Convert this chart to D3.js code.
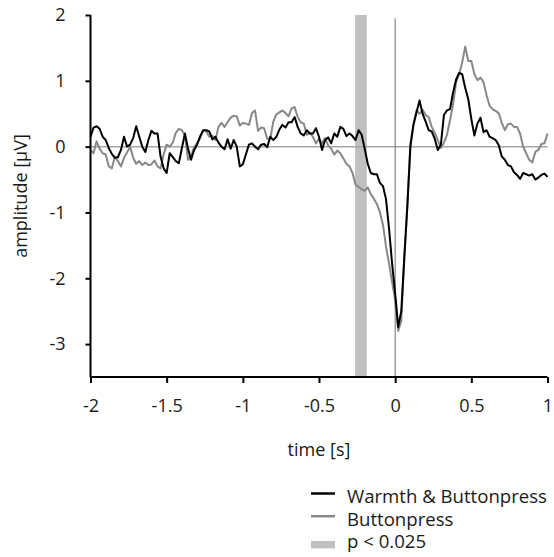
<!DOCTYPE html>
<html>
<head>
<meta charset="utf-8">
<script src="https://cdn.jsdelivr.net/npm/d3@7"></script>
<style>
  html, body { margin: 0; padding: 0; background: #fff; }
  svg { display: block; font-family: "Open Sans", "Noto Sans", sans-serif; }
</style>
</head>
<body>
<svg id="chart" width="554" height="557"></svg>
<script>
// Event-related potential, averaged, sampled every 20 ms from -2 s to 1 s
const tStart = -2;
const tStep = 0.02;

const warmthButtonpress = [
  0.15, 0.29, 0.31, 0.27, 0.15, 0.10, -0.02, -0.11, -0.17, -0.16,
  -0.05, 0.15, 0.00, 0.03, 0.13, 0.31, 0.15, 0.00, -0.08, 0.10,
  0.24, 0.20, 0.20, -0.15, -0.33, -0.40, -0.10, -0.16, -0.22, -0.25,
  -0.02, 0.20, -0.03, -0.20, -0.05, 0.03, 0.16, 0.25, 0.25, 0.23,
  0.11, 0.15, 0.06, 0.00, -0.04, 0.11, -0.03, 0.10, 0.00, -0.30,
  -0.27, -0.12, 0.03, 0.05, 0.00, -0.04, 0.03, 0.04, -0.01, 0.15,
  0.10, 0.15, 0.26, 0.33, 0.29, 0.37, 0.37, 0.45, 0.30, 0.20,
  0.17, 0.25, 0.20, 0.20, 0.28, 0.15, -0.05, 0.10, 0.14, 0.05,
  0.20, 0.15, 0.30, 0.27, 0.16, 0.20, 0.16, 0.10, 0.25, 0.18,
  -0.03, -0.26, -0.40, -0.42, -0.42, -0.55, -0.60, -0.80, -1.25, -1.78,
  -2.23, -2.74, -2.50, -1.68, -0.90, 0.00, 0.33, 0.52, 0.70, 0.50,
  0.38, 0.25, 0.23, 0.12, -0.05, 0.03, 0.48, 0.55, 0.57, 0.82,
  1.02, 1.12, 1.10, 0.89, 0.72, 0.42, 0.17, 0.35, 0.44, 0.22,
  0.25, 0.15, 0.13, 0.10, 0.02, -0.15, -0.20, -0.28, -0.30, -0.39,
  -0.43, -0.49, -0.40, -0.42, -0.44, -0.42, -0.50, -0.47, -0.43, -0.41,
  -0.46
];

const buttonpress = [
  -0.05, -0.10, 0.08, -0.03, -0.10, -0.12, -0.30, -0.33, -0.15, -0.22,
  -0.30, -0.17, -0.09, 0.00, -0.17, -0.26, -0.22, -0.28, -0.24, -0.28,
  -0.27, -0.21, -0.30, -0.33, -0.12, 0.03, 0.00, 0.06, 0.21, 0.27,
  0.25, 0.17, -0.20, -0.14, -0.01, 0.06, 0.13, 0.25, 0.23, 0.15,
  0.17, 0.10, 0.30, 0.36, 0.30, 0.37, 0.44, 0.47, 0.46, 0.32,
  0.36, 0.35, 0.33, 0.51, 0.55, 0.24, 0.29, 0.28, 0.12, 0.12,
  0.38, 0.49, 0.52, 0.55, 0.51, 0.46, 0.58, 0.60, 0.45, 0.37,
  0.35, 0.18, 0.21, 0.15, 0.05, 0.12, 0.05, 0.13, 0.02, -0.03,
  -0.12, -0.06, -0.10, -0.18, -0.26, -0.30, -0.40, -0.58, -0.61, -0.65,
  -0.67, -0.62, -0.72, -0.79, -0.87, -1.00, -1.19, -1.52, -1.78, -2.06,
  -2.33, -2.80, -2.65, -1.70, -0.90, 0.05, 0.35, 0.55, 0.50, 0.56,
  0.48, 0.45, 0.30, 0.21, 0.10, -0.02, 0.06, 0.18, 0.40, 0.64,
  0.98, 1.10, 1.28, 1.52, 1.30, 1.30, 1.10, 1.01, 1.05, 0.98,
  0.78, 0.62, 0.57, 0.54, 0.51, 0.36, 0.25, 0.34, 0.35, 0.30,
  0.30, 0.20, 0.00, -0.10, -0.20, -0.24, -0.08, -0.05, 0.04, 0.05,
  0.20
];

// Significant cluster (p < 0.025)
const sigWindow = [-0.263, -0.186];

const xTicks = [-2, -1.5, -1, -0.5, 0, 0.5, 1];
const yTicks = [-3, -2, -1, 0, 1, 2];

const legendItems = [
  { label: "Warmth & Buttonpress", kind: "line", color: "#000000" },
  { label: "Buttonpress", kind: "line", color: "#888888" },
  { label: "p < 0.025", kind: "rect", color: "#c0c0c0" }
];

const svg = d3.select("#chart");

const x = d3.scaleLinear().domain([-2, 1]).range([90.5, 547.5]);
const y = d3.scaleLinear().domain([-3.5, 2]).range([377, 15]);

const toPoints = vals => vals.map((v, i) => [tStart + i * tStep, v]);

// significance band
svg.append("rect")
  .attr("x", x(sigWindow[0]))
  .attr("width", x(sigWindow[1]) - x(sigWindow[0]))
  .attr("y", y(2))
  .attr("height", y(-3.5) - y(2))
  .attr("fill", "#c0c0c0");

// zero reference lines
svg.append("line")
  .attr("x1", x(-2)).attr("x2", x(1))
  .attr("y1", y(0)).attr("y2", y(0))
  .attr("stroke", "#a6a6a6").attr("stroke-width", 1.5);

svg.append("line")
  .attr("x1", x(0)).attr("x2", x(0))
  .attr("y1", y(1.95)).attr("y2", y(-3.5))
  .attr("stroke", "#6e6e6e").attr("stroke-width", 1);

const line = d3.line()
  .x(d => x(d[0]))
  .y(d => y(d[1]))
  .curve(d3.curveLinear);

svg.append("path")
  .datum(toPoints(buttonpress))
  .attr("d", line)
  .attr("fill", "none")
  .attr("stroke", "#888888")
  .attr("stroke-width", 2)
  .attr("stroke-linejoin", "round");

svg.append("path")
  .datum(toPoints(warmthButtonpress))
  .attr("d", line)
  .attr("fill", "none")
  .attr("stroke", "#000000")
  .attr("stroke-width", 2)
  .attr("stroke-linejoin", "round");

// axes
const fmt = d => String(d);

const xAxis = svg.append("g")
  .attr("transform", `translate(0,${y(-3.5)})`)
  .call(d3.axisBottom(x).tickValues(xTicks).tickFormat(fmt).tickSize(6).tickPadding(16));

const yAxis = svg.append("g")
  .attr("transform", `translate(${x(-2)},0)`)
  .call(d3.axisLeft(y).tickValues(yTicks).tickFormat(fmt).tickSize(5).tickPadding(20));

[xAxis, yAxis].forEach(g => {
  g.select(".domain").attr("stroke", "#000").attr("stroke-width", 2);
  g.selectAll(".tick line").attr("stroke", "#000").attr("stroke-width", 2);
  g.selectAll(".tick text")
    .attr("fill", "#1a1a1a")
    .style("font-family", "'Open Sans', 'Noto Sans', sans-serif")
    .style("font-size", "18px");
});
xAxis.select(".domain").attr("d", `M${x(-2)},0H${x(1)}`);
yAxis.select(".domain").attr("d", `M0,${y(2)}V${y(-3.5)}`);

// axis titles
svg.append("text")
  .attr("x", 319).attr("y", 456)
  .attr("text-anchor", "middle")
  .attr("fill", "#1a1a1a")
  .style("font-size", "18px")
  .text("time [s]");

svg.append("text")
  .attr("transform", `translate(27,196) rotate(-90)`)
  .attr("text-anchor", "middle")
  .attr("fill", "#1a1a1a")
  .style("font-size", "18px")
  .text("amplitude [μV]");

// legend
const legend = svg.append("g").attr("transform", "translate(311,503)");
legendItems.forEach((item, i) => {
  const g = legend.append("g").attr("transform", `translate(0,${i * 22.7})`);
  if (item.kind === "line") {
    g.append("line")
      .attr("x1", 0).attr("x2", 24)
      .attr("y1", -9.5).attr("y2", -9.5)
      .attr("stroke", item.color).attr("stroke-width", 2.5);
  } else {
    g.append("rect")
      .attr("x", 0).attr("y", -7.5)
      .attr("width", 24).attr("height", 7.5)
      .attr("fill", item.color);
  }
  g.append("text")
    .attr("x", 36).attr("y", 0)
    .attr("fill", "#1a1a1a")
    .style("font-size", "18.6px")
    .text(item.label);
});
</script>
</body>
</html>
